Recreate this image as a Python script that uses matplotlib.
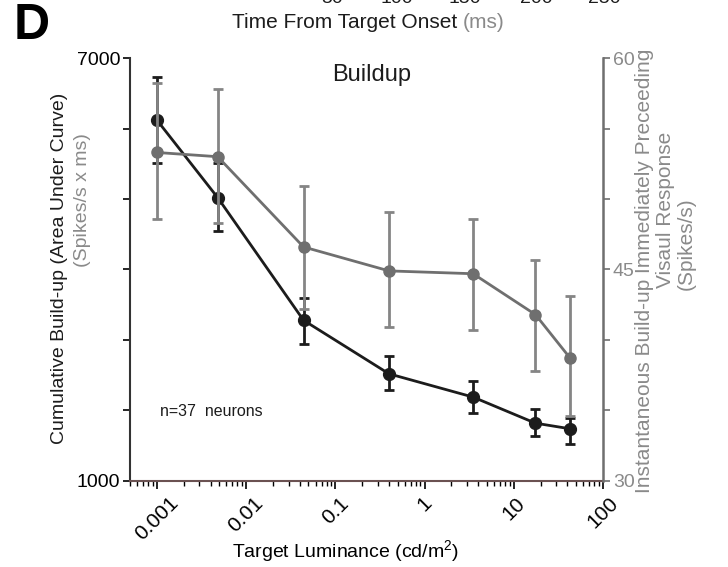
import matplotlib
matplotlib.use("Agg")
import matplotlib.pyplot as plt
import numpy as np
from matplotlib.ticker import FixedLocator, NullFormatter, LogLocator

plt.rcParams["font.family"] = ["Liberation Sans", "DejaVu Sans"]
plt.rcParams["mathtext.fontset"] = "custom"
plt.rcParams["mathtext.rm"] = "Liberation Sans"

# 휘도 (cd/m2)
luminance = [0.001, 0.0048, 0.044, 0.40, 3.5, 17.5, 43]

# 누적 build-up (왼쪽 축)
cum_mean = [6120, 5020, 3280, 2520, 2190, 1820, 1740]
cum_lo = [5510, 4540, 2950, 2290, 1970, 1640, 1530]
cum_hi = [6730, 5510, 3600, 2780, 2420, 2020, 1900]

# 순간 build-up (오른쪽 축)
inst_mean = [53.3, 53.0, 46.6, 44.9, 44.7, 41.8, 38.7]
inst_lo = [48.6, 48.3, 42.2, 40.9, 40.7, 37.8, 34.6]
inst_hi = [58.2, 57.8, 50.9, 49.1, 48.6, 45.7, 43.1]

x_ticks = [0.001, 0.01, 0.1, 1, 10, 100]
x_labels = ["0.001", "0.01", "0.1", "1", "10", "100"]

BLACK = "#1c1c1c"
GRAY = "#6f6f6f"
GRAY_ERR = "#858585"
GRAY_TXT = "#8a8a8a"

fig = plt.figure(figsize=(7.28, 5.67), dpi=100)
ax = fig.add_axes([0.1786, 0.1517, 0.6497, 0.7460])
ax2 = ax.twinx()

m = np.array(cum_mean)
ax.errorbar(luminance, cum_mean,
            yerr=[m - np.array(cum_lo), np.array(cum_hi) - m],
            color=BLACK, lw=2, marker="o", ms=8.5, capsize=3.5, capthick=2,
            elinewidth=2)

m2 = np.array(inst_mean)
ax2.errorbar(luminance, inst_mean,
             yerr=[m2 - np.array(inst_lo), np.array(inst_hi) - m2],
             color=GRAY, lw=2, marker="o", ms=8, capsize=3.5, capthick=2,
             elinewidth=2, ecolor=GRAY_ERR)

# x 축 (log)
ax.set_xscale("log")
ax.set_xlim(0.0005, 100)
ax.xaxis.set_major_locator(FixedLocator(x_ticks))
ax.set_xticklabels(x_labels, rotation=45, ha="center", fontsize=15)
ax.xaxis.set_minor_locator(LogLocator(base=10, subs=np.arange(2, 10), numticks=20))
ax.xaxis.set_minor_formatter(NullFormatter())
ax.tick_params(axis="x", which="major", length=6, width=1.2, pad=3)
ax.tick_params(axis="x", which="minor", length=3.5, width=1)

# 왼쪽 y 축
ax.set_ylim(1000, 7000)
ax.set_yticks(np.arange(1000, 7001, 1000))
ax.set_yticklabels(["1000", "", "", "", "", "", "7000"], fontsize=14)
ax.tick_params(axis="y", length=5, width=1.2, pad=2)

# 오른쪽 y 축
ax2.set_ylim(30, 60)
ax2.set_yticks(np.arange(30, 61, 5))
ax2.set_yticklabels(["30", "", "", "45", "", "", "60"], fontsize=14, color=GRAY_TXT)
ax2.tick_params(axis="y", length=5, width=1.2, pad=2, color=GRAY)

for a in (ax, ax2):
    a.spines["top"].set_visible(False)
ax.spines["right"].set_visible(False)
ax2.spines["left"].set_visible(False)
ax2.spines["bottom"].set_visible(False)
ax.spines["left"].set_linewidth(1.5)
ax.spines["left"].set_color("#333333")
ax.spines["bottom"].set_linewidth(1.5)
ax.spines["bottom"].set_color("#6b5252")
ax2.spines["right"].set_linewidth(1.8)
ax2.spines["right"].set_color(GRAY)

ax.set_xlabel("Target Luminance (cd/m$^{\\mathregular{2}}$)", fontsize=14, va="center")
ax.xaxis.set_label_coords(0.4545, -0.168)

# 패널 내부 텍스트
ax.text(0.51, 0.96, "Buildup", transform=ax.transAxes, ha="center", va="center",
        fontsize=17, color=BLACK)
ax.text(0.063, 0.1635, "n=37  neurons", transform=ax.transAxes, ha="left",
        va="center", fontsize=11.5, color=BLACK)

# 왼쪽 y 라벨 (두 줄, 색 다름)
fig.text(0.082, 0.527, "Cumulative Build-up (Area Under Curve)", rotation=90,
         ha="center", va="center", fontsize=14, color=BLACK)
fig.text(0.113, 0.647, "(Spikes/s x ms)", rotation=90,
         ha="center", va="center", fontsize=14, color=GRAY_TXT)

# 오른쪽 y 라벨
fig.text(0.885, 0.522, "Instantaneous Build-up Immediately Preceeding", rotation=90,
         ha="center", va="center", fontsize=15, color=GRAY_TXT)
fig.text(0.914, 0.630, "Visaul Response", rotation=90,
         ha="center", va="center", fontsize=15, color=GRAY_TXT)
fig.text(0.942, 0.570, "(Spikes/s)", rotation=90,
         ha="center", va="center", fontsize=15, color=GRAY_TXT)

# 패널 라벨
fig.text(0.019, 0.955, "D", fontsize=36, fontweight="bold", ha="left", va="center")

# 위 패널의 잘린 축 (Time From Target Onset)
t1 = fig.text(0.319, 0.960, "Time From Target Onset ", fontsize=15, color=BLACK,
              ha="left", va="center")
fig.canvas.draw()
ax.annotate("(ms)", xy=(1, 0), xycoords=t1, ha="left", va="bottom",
            fontsize=15, color=GRAY_TXT, annotation_clip=False)
top_ticks = [50, 100, 150, 200, 250]
top_x = [332, 397, 465, 536, 604]
for v, px in zip(top_ticks, top_x):
    fig.text(px / 728, 1.003, str(v), fontsize=14, color=BLACK, ha="center", va="center")

fig.savefig("out.png", dpi=100)
